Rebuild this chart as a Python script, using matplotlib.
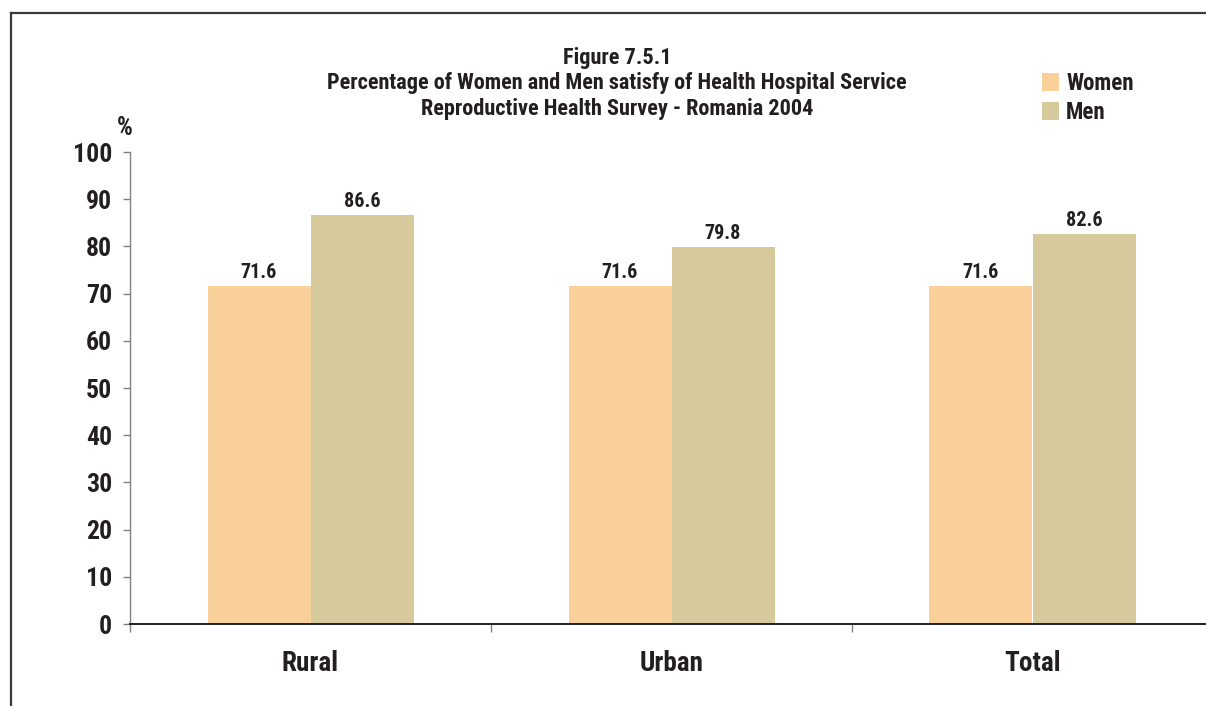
import matplotlib
matplotlib.use("Agg")
import matplotlib.pyplot as plt
from matplotlib.lines import Line2D
from matplotlib.patches import Patch
import numpy as np

categories = ["Rural", "Urban", "Total"]
women = [71.6, 71.6, 71.6]
men = [86.6, 79.8, 82.6]
yticks = [0, 10, 20, 30, 40, 50, 60, 70, 80, 90, 100]
title_lines = ["Figure 7.5.1",
               "Percentage of Women and Men satisfy of Health Hospital Service",
               "Reproductive Health Survey - Romania 2004"]
series_names = ["Women", "Men"]

W, H = 1206, 706
FONT = ["Roboto Condensed", "DejaVu Sans"]
plt.rcParams['font.family'] = FONT
plt.rcParams['font.weight'] = 'bold'
TXT = "#231F20"
C_W = "#F9CF9A"
C_M = "#D6C99C"

fig = plt.figure(figsize=(W / 100, H / 100), dpi=100)
fig.patch.set_facecolor("white")

# frame lines (left and top)
fig.add_artist(Line2D([11 / W, 11 / W], [0, 1 - 13 / H], transform=fig.transFigure,
                      color="#3a3a3a", lw=1.6))
fig.add_artist(Line2D([11 / W, 1], [1 - 13 / H, 1 - 13 / H], transform=fig.transFigure,
                      color="#3a3a3a", lw=1.6))

ax = fig.add_axes([130 / W, 82 / H, 1083 / W, 472 / H])
x = np.arange(len(categories))
bw = 103 / 361
ax.bar(x - bw / 2, women, bw, color=C_W, label=series_names[0], zorder=2)
ax.bar(x + bw / 2, men, bw, color=C_M, label=series_names[1], zorder=2)

for xi, v in zip(x, women):
    ax.annotate(f"{v:.1f}", (xi - bw / 2, v), xytext=(0, 3), textcoords="offset points",
                ha="center", va="bottom", fontsize=14.5, fontweight="bold", color=TXT)
for xi, v in zip(x, men):
    ax.annotate(f"{v:.1f}", (xi + bw / 2, v), xytext=(0, 3), textcoords="offset points",
                ha="center", va="bottom", fontsize=14.5, fontweight="bold", color=TXT)

ax.set_xlim(-0.5, len(categories) - 0.5)
ax.set_ylim(0, 100)
ax.set_yticks(yticks)
ax.set_yticklabels([str(t) for t in yticks], fontsize=18.5, fontweight="bold", color=TXT)
ax.tick_params(axis="y", length=5, width=1, color="#808080", pad=8)

ax.set_xticks(np.arange(-0.5, len(categories), 1.0))
ax.set_xticklabels([])
ax.tick_params(axis="x", which="major", length=6, width=1, color="#808080")
ax.set_xticks(x, minor=True)
ax.set_xticklabels(categories, minor=True, fontsize=19.5, fontweight="bold", color=TXT)
ax.tick_params(axis="x", which="minor", length=0, pad=19)

for s in ["top", "right"]:
    ax.spines[s].set_visible(False)
ax.spines["left"].set_color("#808080")
ax.spines["left"].set_linewidth(1)
ax.spines["bottom"].set_color(TXT)
ax.spines["bottom"].set_linewidth(1.4)
ax.spines["bottom"].set_zorder(3)

# % label
fig.text(125 / W, 1 - 135 / H, "%", ha="center", va="baseline", fontsize=18,
         fontweight="bold", color=TXT)

# title
for line, yb in zip(title_lines, [64, 89, 115]):
    fig.text(617 / W, 1 - yb / H, line, ha="center", va="baseline", fontsize=16,
             fontweight="bold", color=TXT)

handles = [Patch(facecolor=C_W, edgecolor="none"), Patch(facecolor=C_M, edgecolor="none")]
leg = fig.legend(handles, series_names, loc="upper left",
                 bbox_to_anchor=(1042 / W, 1 - 72 / H), frameon=False,
                 prop={"family": FONT, "weight": "bold", "size": 16.5},
                 handlelength=0.75, handleheight=0.8, handletextpad=0.3,
                 labelspacing=0.25, borderpad=0, borderaxespad=0)
for t in leg.get_texts():
    t.set_color(TXT)

fig.savefig("out.png", dpi=100, facecolor="white")
